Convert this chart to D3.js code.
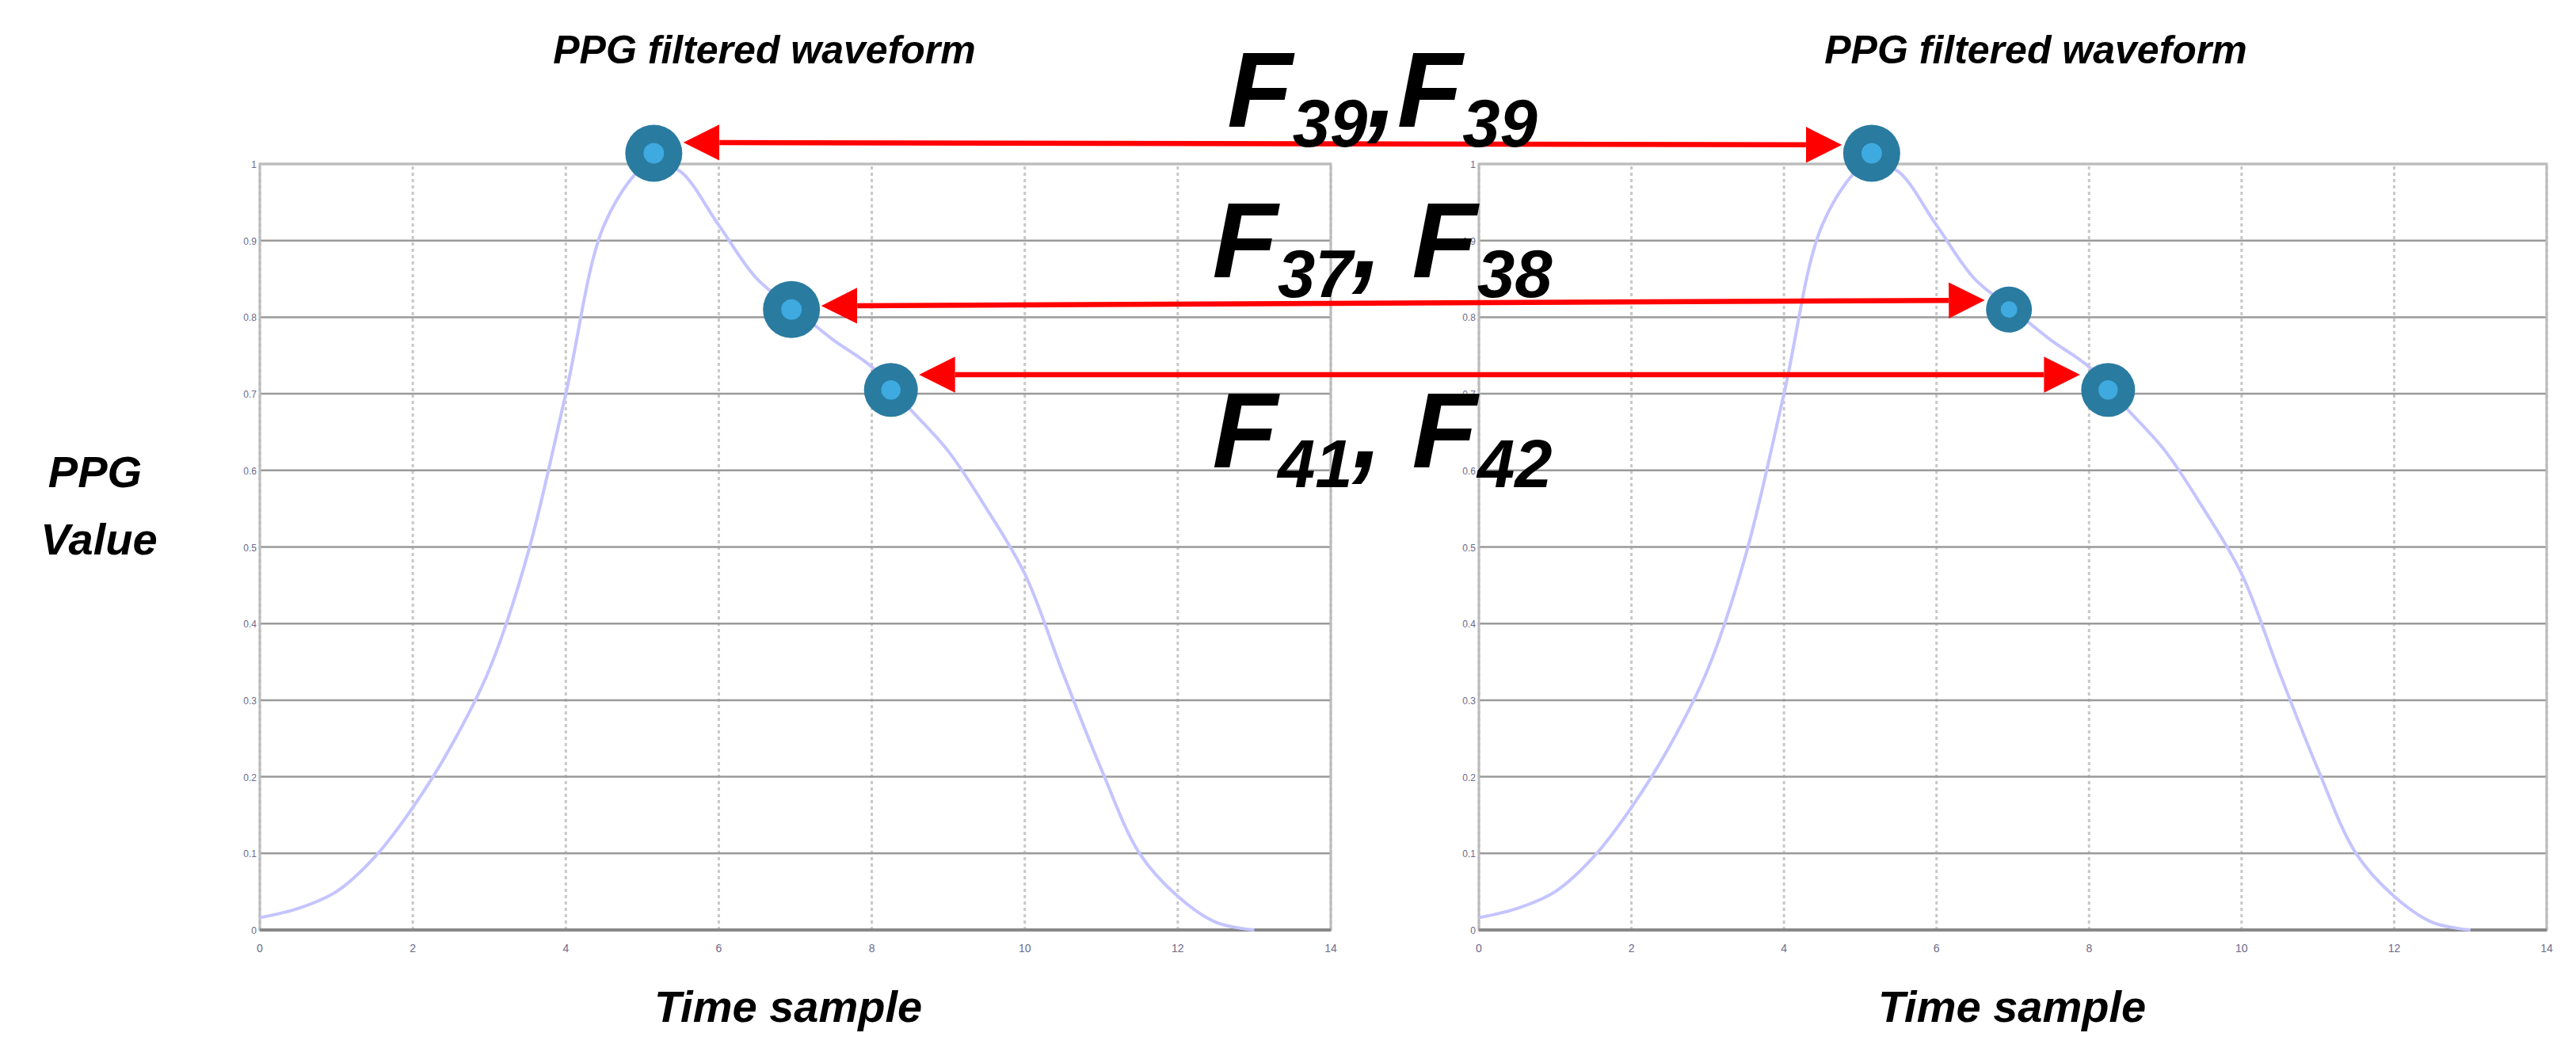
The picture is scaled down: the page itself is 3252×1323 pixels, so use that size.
<!DOCTYPE html>
<html><head><meta charset="utf-8">
<script src="https://cdn.jsdelivr.net/npm/d3@7"></script>
<style>body{margin:0;background:#fff}</style></head>
<body><svg id="c" width="3252" height="1323"></svg>
<script>
const curveX=[0,0.5,1,1.5,2,2.5,3,3.5,4,4.5,5,5.2,5.5,6,6.5,7,7.5,8,8.5,9,9.5,10,10.5,11,11.5,12,12.5,13];
const curveY=[0.016,0.028,0.05,0.095,0.16,0.24,0.34,0.49,0.70,0.92,0.995,1.0,0.99,0.92,0.85,0.81,0.77,0.735,0.68,0.625,0.55,0.465,0.335,0.21,0.10,0.044,0.01,0];
const markX=[5.15,6.95,8.25];
const markY=[1.014,0.81,0.705];
const arrowY=[[1.028,1.025],[0.815,0.822],[0.725,0.725]];
const labels=[["39","39",","],["37","38",", "],["41","42",", "]];
const xTicks=[0,2,4,6,8,10,12,14];
const yTicks=[0,0.1,0.2,0.3,0.4,0.5,0.6,0.7,0.8,0.9,1];
const FONT="'Liberation Sans Narrow','Liberation Sans',Arial,sans-serif";
const svg=d3.select("#c");
const yS=d3.scaleLinear().domain([0,1]).range([1174,207]);
const panels=[d3.scaleLinear().domain([0,14]).range([328,1680]),d3.scaleLinear().domain([0,14]).range([1867,3215])];
panels.forEach((xS,pi)=>{
  const g=svg.append("g");
  g.selectAll(".vg").data(xTicks).join("line").attr("x1",d=>xS(d)).attr("x2",d=>xS(d)).attr("y1",yS(0)).attr("y2",yS(1))
   .attr("stroke","#c8c8c8").attr("stroke-width",3).attr("stroke-dasharray","4,4");
  g.selectAll(".hg").data(yTicks).join("line").attr("y1",d=>yS(d)).attr("y2",d=>yS(d)).attr("x1",xS(0)).attr("x2",xS(14))
   .attr("stroke","#9a9a9a").attr("stroke-width",2.5);
  g.append("rect").attr("x",xS(0)).attr("y",yS(1)).attr("width",xS(14)-xS(0)).attr("height",yS(0)-yS(1)).attr("fill","none").attr("stroke","#bbb").attr("stroke-width",3);
  g.append("line").attr("x1",xS(0)).attr("x2",xS(14)).attr("y1",yS(0)).attr("y2",yS(0)).attr("stroke","#888").attr("stroke-width",4);
  g.selectAll(".xt").data(xTicks).join("text").attr("x",d=>xS(d)).attr("y",yS(0)+28).attr("text-anchor","middle")
   .attr("font-size",14).attr("font-family",FONT).attr("fill","#6a6a8a").text(d=>d);
  g.selectAll(".yt").data(yTicks).join("text").attr("x",xS(0)-4).attr("y",d=>yS(d)+5).attr("text-anchor","end")
   .attr("font-size",12).attr("font-family",FONT).attr("fill","#6a6a8a").text(d=>d);
  const line=d3.line().x((d,i)=>xS(curveX[i])).y(d=>yS(d)).curve(d3.curveCatmullRom);
  g.append("path").datum(curveY).attr("d",line).attr("fill","none").attr("stroke","#c4c4ff").attr("stroke-width",4);
  g.append("text").attr("x",pi?2570:965).attr("y",80).attr("text-anchor","middle").attr("font-family",FONT)
   .attr("font-weight","bold").attr("font-style","italic").attr("font-size",50).text("PPG filtered waveform");
  g.append("text").attr("x",pi?2540:995).attr("y",1290).attr("text-anchor","middle").attr("font-family",FONT)
   .attr("font-weight","bold").attr("font-style","italic").attr("font-size",56).text("Time sample");
});
const L=panels[0],R=panels[1];
const rOut=[36,36,34],rOutR=[36,29,34];
const defs=svg.append("defs");
defs.append("marker").attr("id","ah").attr("viewBox","0 0 10 10").attr("refX",0).attr("refY",5)
 .attr("markerWidth",7).attr("markerHeight",7).attr("markerUnits","strokeWidth").attr("orient","auto-start-reverse")
 .append("path").attr("d","M0,0L10,5L0,10Z").attr("fill","#ff0000");
markX.forEach((mx,i)=>{
  const x1=L(mx)+rOut[i]+2+45, x2=R(mx)-rOutR[i]-2-45;
  svg.append("line").attr("x1",x1).attr("x2",x2).attr("y1",yS(arrowY[i][0])).attr("y2",yS(arrowY[i][1]))
   .attr("stroke","#ff0000").attr("stroke-width",6.5).attr("marker-start","url(#ah)").attr("marker-end","url(#ah)");
});
[[L,rOut],[R,rOutR]].forEach(([xS,rr])=>{
  markX.forEach((mx,i)=>{
    svg.append("circle").attr("cx",xS(mx)).attr("cy",yS(markY[i])).attr("r",rr[i]).attr("fill","#2a7ba0");
    svg.append("circle").attr("cx",xS(mx)).attr("cy",yS(markY[i])).attr("r",rr[i]*0.36).attr("fill","#3eaadf");
  });
});
const labY=[160,350,590];
labels.forEach((lb,i)=>{
  const t=svg.append("text").attr("x",1745).attr("y",labY[i]).attr("text-anchor","middle").attr("font-family",FONT)
   .attr("font-weight","bold").attr("font-style","italic").attr("font-size",135);
  t.append("tspan").text("F");
  t.append("tspan").attr("font-size",85).attr("dy",25).text(lb[0]);
  t.append("tspan").attr("dy",-25).text(lb[2]+"F");
  t.append("tspan").attr("font-size",85).attr("dy",25).text(lb[1]);
});
svg.append("text").attr("x",120).attr("y",615).attr("text-anchor","middle").attr("font-family",FONT)
 .attr("font-weight","bold").attr("font-style","italic").attr("font-size",56).text("PPG");
svg.append("text").attr("x",125).attr("y",700).attr("text-anchor","middle").attr("font-family",FONT)
 .attr("font-weight","bold").attr("font-style","italic").attr("font-size",56).text("Value");
</script></body></html>
